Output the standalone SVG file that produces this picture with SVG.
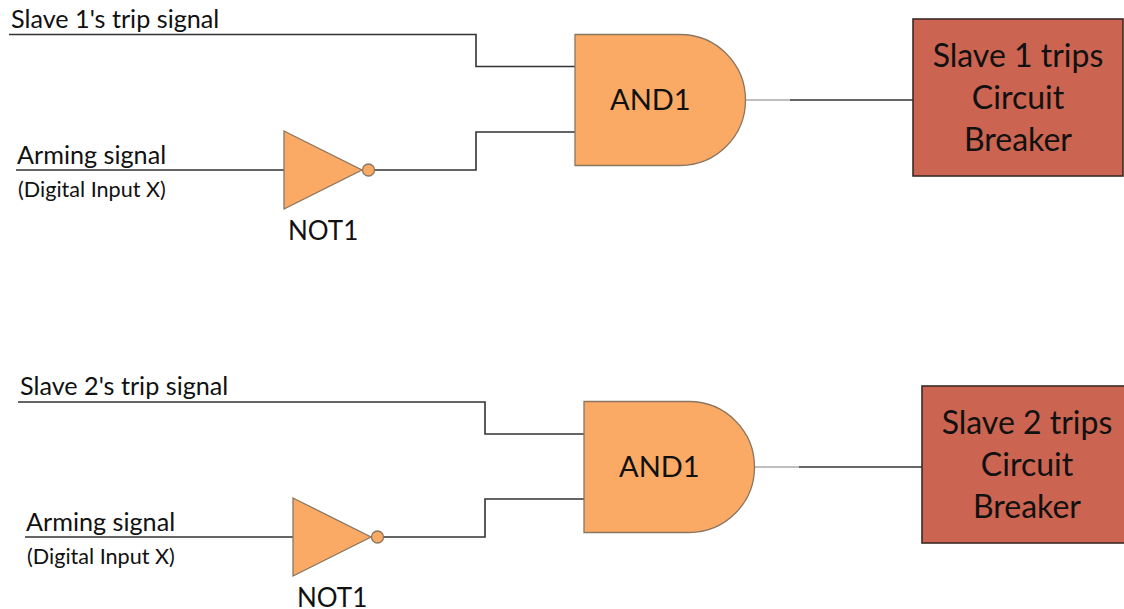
<svg xmlns="http://www.w3.org/2000/svg" width="1124" height="609" viewBox="0 0 1124 609">
<defs>
<style>
text{font-family:"Lato","Open Sans",sans-serif;fill:#111}
.w{fill:none;stroke:#333;stroke-width:1.6}
.o{fill:none;stroke:#aaa;stroke-width:1.6}
.g{fill:#fbaa66;stroke:#8a7660;stroke-width:1.3}
.b{fill:#cb6450;stroke:#3a2a26;stroke-width:1.6}
.s{font-size:25.2px}.x{font-size:21.600px}.n{font-size:26px}.a{font-size:29px}.t{font-size:32px;text-anchor:middle}
</style>
</defs>
<rect width="1124" height="609" fill="#fff"/>
<g id="connectors">
<path class="w" d="M9 34.500H476V66.500H575"/>
<path class="w" d="M16 170H284M374 170H476V132H575"/>
<path class="o" d="M745 100H790"/><path class="w" d="M790 100H913"/>
<path class="w" d="M18 402H485V434H584"/>
<path class="w" d="M25 537H293M383 537H485V499H584"/>
<path class="o" d="M754 467H799"/><path class="w" d="M799 467H922"/>
</g>
<g id="label-trip-1"><text class="s" x="11" y="28">Slave 1's trip signal</text></g>
<g id="label-arming-1"><text class="s" x="17" y="164">Arming signal</text><text class="x" x="18" y="197">(Digital Input X)</text></g>
<g id="not-1"><path class="g" d="M284 131L362 170L284 209Z"/><circle class="g" cx="368.500" cy="170" r="6"/><text class="n" x="288" y="240">NOT1</text></g>
<g id="and-1"><path class="g" d="M575 34.500H680A65.500 65.500 0 0 1 680 165.500H575Z"/><text class="a" x="610" y="110">AND1</text></g>
<g id="box-1"><rect class="b" x="913" y="19" width="210" height="157"/><text class="t" x="1018" y="67">Slave 1 trips</text><text class="t" x="1018" y="109">Circuit</text><text class="t" x="1018" y="151">Breaker</text></g>
<g id="label-trip-2"><text class="s" x="20" y="395">Slave 2's trip signal</text></g>
<g id="label-arming-2"><text class="s" x="26" y="531">Arming signal</text><text class="x" x="27" y="564">(Digital Input X)</text></g>
<g id="not-2"><path class="g" d="M293 498L371 537L293 576Z"/><circle class="g" cx="377.500" cy="537" r="6"/><text class="n" x="297" y="607">NOT1</text></g>
<g id="and-2"><path class="g" d="M584 401.500H689A65.500 65.500 0 0 1 689 532.500H584Z"/><text class="a" x="619" y="477">AND1</text></g>
<g id="box-2"><rect class="b" x="922" y="386" width="210" height="157"/><text class="t" x="1027" y="434">Slave 2 trips</text><text class="t" x="1027" y="476">Circuit</text><text class="t" x="1027" y="518">Breaker</text></g>
</svg>
